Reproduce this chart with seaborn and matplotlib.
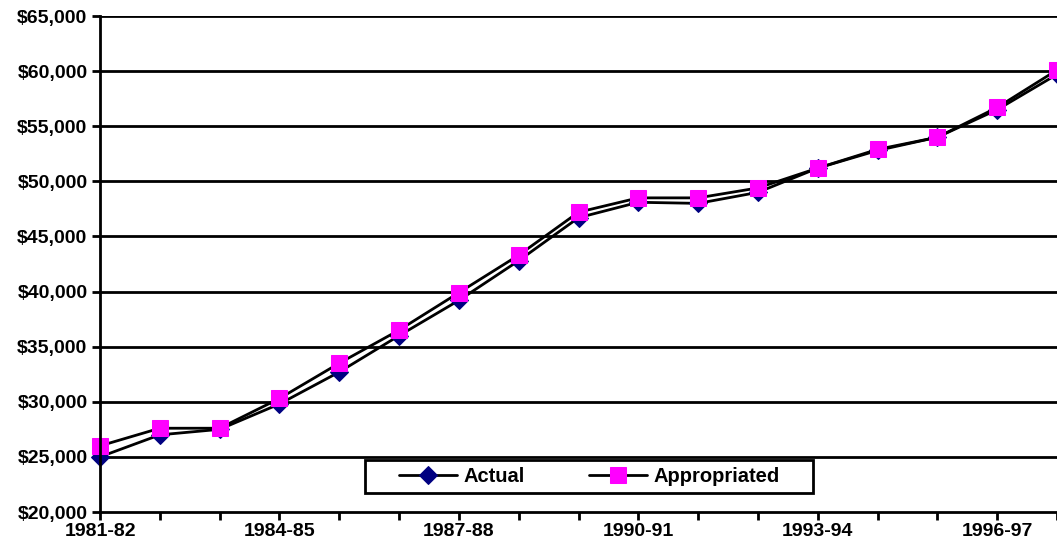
import matplotlib
matplotlib.use('Agg')
import matplotlib.pyplot as plt
from matplotlib.patches import Rectangle
import seaborn as sns

# Data
years = ['1981-82', '1982-83', '1983-84', '1984-85', '1985-86', '1986-87',
         '1987-88', '1988-89', '1989-90', '1990-91', '1991-92', '1992-93',
         '1993-94', '1994-95', '1995-96', '1996-97', '1997-98']
actual = [25000, 27000, 27500, 29800, 32700, 36000, 39200, 42800, 46700,
          48100, 48000, 49000, 51200, 52800, 54000, 56500, 59700]
appropriated = [26000, 27600, 27600, 30300, 33500, 36500, 39900, 43300, 47200,
                48500, 48500, 49400, 51200, 52900, 54000, 56700, 60100]
y_ticks = list(range(20000, 65001, 5000))

sns.set_style('white', {'text.color': 'black', 'xtick.color': 'black',
                        'ytick.color': 'black', 'axes.labelcolor': 'black'})
plt.rcParams['font.family'] = ['Liberation Sans', 'DejaVu Sans']
plt.rcParams['font.weight'] = 'bold'

W, H = 1057, 556
fig = plt.figure(figsize=(W / 100, H / 100), dpi=100)
ax = fig.add_axes([100 / W, 1 - 512 / H, 1 - 100 / W, (512 - 16) / H])

x = list(range(len(years)))
sns.lineplot(x=x, y=actual, ax=ax, color='black', linewidth=2,
             marker='D', markersize=9.5, markerfacecolor='#000080',
             markeredgecolor='#000080', label='Actual', clip_on=False)
sns.lineplot(x=x, y=appropriated, ax=ax, color='black', linewidth=2,
             marker='s', markersize=11.5, markerfacecolor='#ff00ff',
             markeredgecolor='#ff00ff', label='Appropriated', clip_on=False)

ax.set_xlim(0, len(years) - 1)
ax.set_ylim(20000, 65000)
ax.set_yticks(y_ticks)
ax.set_yticklabels([f'${v:,}' for v in y_ticks])
ax.set_xticks(x)
ax.set_xticklabels([y if i % 3 == 0 else '' for i, y in enumerate(years)])
ax.tick_params(axis='both', labelsize=14, length=6, width=2, pad=3,
               color='black', labelcolor='black', direction='out',
               bottom=True, left=True)
ax.tick_params(axis='x', pad=2)

for v in y_ticks[1:]:
    ax.axhline(v, color='black', linewidth=2, zorder=0)

for side in ['top', 'right']:
    ax.spines[side].set_visible(False)
for side in ['left', 'bottom']:
    ax.spines[side].set_color('black')
    ax.spines[side].set_linewidth(2)

# legend box (frame drawn separately to get Excel-like padding)
lx0, lx1, ly0, ly1 = 365, 813, 460, 493
fig.patches.append(Rectangle((lx0 / W, 1 - ly1 / H), (lx1 - lx0) / W,
                             (ly1 - ly0) / H, transform=fig.transFigure,
                             facecolor='white', edgecolor='black',
                             linewidth=2, zorder=5))
leg = ax.legend(loc='center', bbox_to_anchor=((lx0 + lx1) / 2 / W, 1 - (ly0 + ly1) / 2 / H),
                bbox_transform=fig.transFigure, ncol=2, frameon=False,
                fontsize=14.5, handlelength=2.9, handletextpad=0.3,
                columnspacing=3.2, borderpad=0.2, labelcolor='black')
leg.set_zorder(6)
fig.legends.append(leg)
ax.get_legend().remove()

fig.savefig('out.png', dpi=100)
